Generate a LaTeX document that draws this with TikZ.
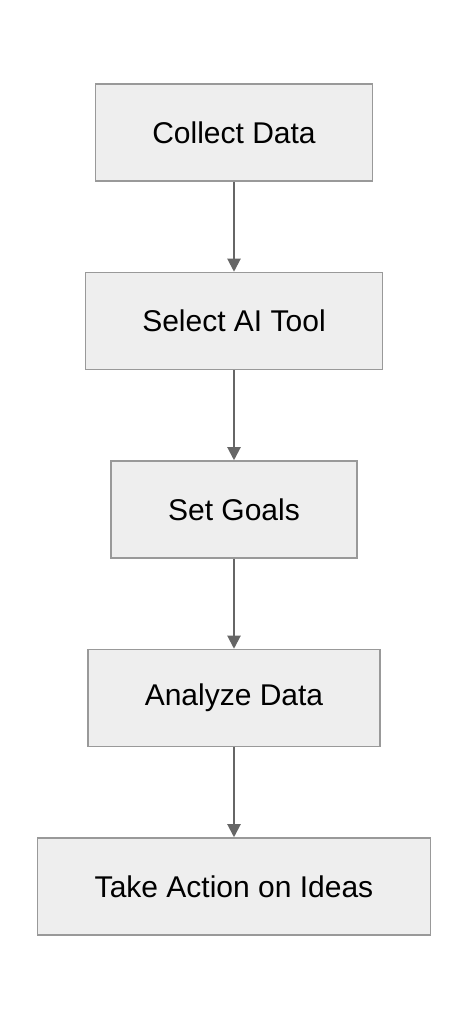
\documentclass[tikz,border=0pt]{standalone}
\usepackage{fontspec}
\setmainfont{Liberation Sans}
\usetikzlibrary{positioning,arrows.meta}
\definecolor{boxfill}{HTML}{EEEEEE}
\definecolor{boxline}{HTML}{999999}
\definecolor{arrowline}{HTML}{666666}
\tikzset{
	stepbox/.style={draw=boxline, fill=boxfill, line width=1.5pt, minimum height=97pt, inner xsep=57pt, font=\fontsize{30}{36}\selectfont},
	flow/.style={draw=arrowline, line width=2pt, -{Triangle[length=13pt, width=13pt]}}
}
\begin{document}
\begin{tikzpicture}[x=1pt, y=1pt, node distance=90pt]
			\useasboundingbox (0,0) rectangle (468,1020);
			\node [stepbox] (collect) at (234,887.5) {Collect Data};
			\node [stepbox, below=of collect] (select) {Select AI Tool};
			\node [stepbox, below=of select] (goals) {Set Goals};
			\node [stepbox, below=of goals] (analyze) {Analyze Data};
			\node [stepbox, below=of analyze] (action) {Take Action on Ideas};
			\draw [flow] (collect) -- (select);
			\draw [flow] (select) -- (goals);
			\draw [flow] (goals) -- (analyze);
			\draw [flow] (analyze) -- (action);
		\end{tikzpicture}
\end{document}
